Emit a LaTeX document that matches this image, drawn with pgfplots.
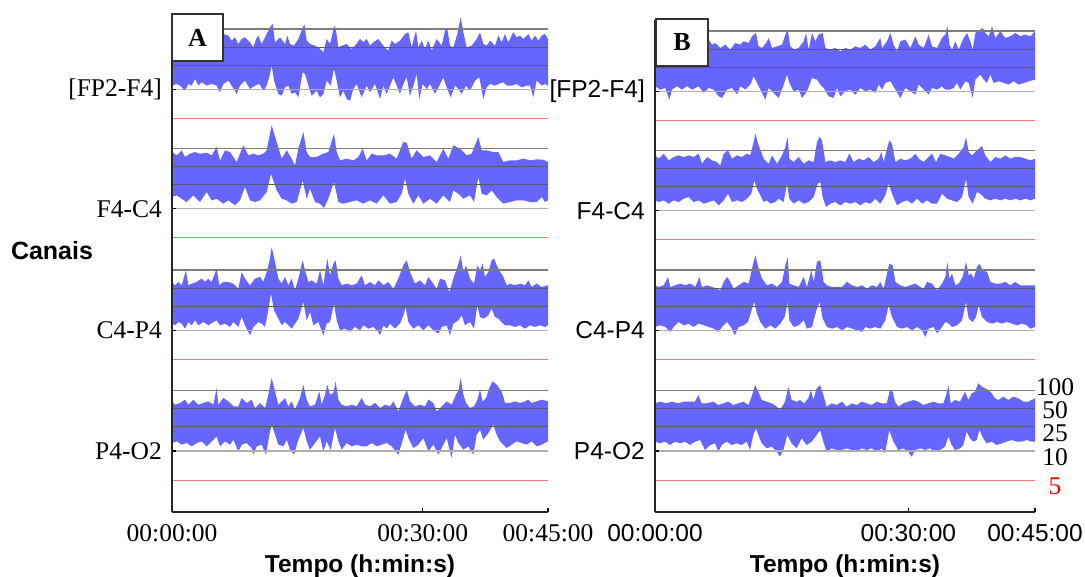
\documentclass[border=0pt]{standalone}
\usepackage{fontspec}
\setmainfont{Liberation Sans}
\newfontfamily\tnr{Liberation Serif}
\usepackage{pgfplots}
\pgfplotsset{compat=1.18}
\usepgfplotslibrary{fillbetween}
\definecolor{bandc}{RGB}{102,102,255}
\definecolor{lc100}{RGB}{125,125,125}
\definecolor{lcmid}{RGB}{90,90,110}
\definecolor{lc10}{RGB}{175,175,175}
\definecolor{lc5}{RGB}{255,120,120}
\pgfplotsset{
 chanA/.style={scale only axis, width=376pt, height=120pt, xmin=0, xmax=1128, ymin=-120, ymax=240, axis lines=none, ticks=none, clip=false, anchor=south west},
 chanB/.style={chanA, width=380pt, xmax=1140},
}
\newcommand\levels[1]{%
 \addplot[lc100, line width=1.1pt] coordinates {(0,181) (#1,181)};
 \addplot[lcmid, line width=1pt] coordinates {(0,126) (#1,126)};
 \addplot[lcmid, line width=1pt] coordinates {(0,72) (#1,72)};
 \addplot[lc10, line width=1.2pt] coordinates {(0,0) (#1,0)};
 \addplot[lc5, line width=0.9pt] coordinates {(0,-87) (#1,-87)};
}
\newcommand\band[2]{%
 \addplot[draw=none, name path=uu] coordinates {#1};
 \addplot[draw=none, name path=ll] coordinates {#2};
 \addplot[fill=bandc, draw=none] fill between[of=uu and ll];
}
\newcommand\fs{\fontsize{25.5}{30}\selectfont}
\newcommand\fss{\fontsize{24.5}{29}\selectfont}
\begin{document}
\begin{tikzpicture}[x=1pt,y=1pt]
% ===== Panel A =====
\begin{axis}[chanA, at={(172pt,446.7pt)}]
\band{(0,156) (24,141) (49,151) (74,136) (99,156) (124,146) (144,151) (154,166) (169,161) (179,146) (189,156) (199,136) (209,151) (219,156) (234,141) (244,126) (252,151) (259,161) (269,136) (284,166) (294,186) (302,196) (309,141) (324,156) (339,136) (346,161) (354,136) (366,131) (379,151) (389,176) (397,196) (404,146) (414,136) (429,131) (439,126) (454,111) (464,151) (474,136) (487,191) (492,176) (499,126) (509,131) (524,136) (539,121) (549,131) (564,151) (574,141) (584,151) (594,131) (604,141) (619,151) (634,131) (649,116) (659,146) (669,136) (684,146) (699,166) (709,171) (719,126) (732,176) (739,126) (749,146) (759,121) (769,146) (779,116) (794,151) (809,131) (819,176) (826,181) (834,131) (844,126) (856,166) (866,216) (874,171) (884,126) (899,131) (914,151) (924,171) (934,136) (944,131) (954,146) (969,131) (979,161) (989,141) (999,166) (1009,141) (1024,171) (1034,156) (1044,161) (1054,151) (1069,166) (1079,146) (1089,161) (1099,146) (1109,161) (1119,166) (1128,151)}
{(0,11) (14,16) (24,11) (39,-4) (49,16) (59,11) (69,31) (79,11) (89,21) (104,11) (119,16) (134,11) (144,-9) (154,16) (169,26) (179,11) (194,-14) (204,11) (219,26) (234,1) (249,11) (262,16) (274,-4) (284,11) (294,46) (299,71) (306,26) (319,-14) (329,-19) (339,6) (349,11) (359,-14) (369,-9) (379,-24) (392,51) (399,46) (409,11) (419,-19) (434,-4) (444,-24) (454,-14) (464,26) (476,11) (486,61) (494,26) (504,-24) (514,-4) (524,-29) (534,-34) (544,1) (554,16) (569,-24) (584,11) (594,-9) (609,16) (624,-29) (634,11) (644,-14) (654,11) (664,36) (674,11) (684,-14) (694,16) (704,36) (714,-19) (724,11) (734,46) (742,-29) (752,16) (764,1) (774,16) (789,-14) (802,11) (814,36) (824,6) (836,-24) (849,11) (859,1) (869,-14) (882,11) (894,-4) (909,26) (922,36) (934,-29) (944,6) (954,16) (969,11) (979,16) (994,21) (1004,11) (1019,11) (1034,16) (1049,6) (1064,11) (1074,11) (1084,-24) (1094,26) (1109,11) (1119,16) (1128,11)}
\levels{1128}
\end{axis}
\begin{axis}[chanA, at={(172pt,327.3pt)}]
\band{(0,170) (14,160) (29,175) (39,155) (54,165) (69,170) (84,165) (104,168) (119,160) (134,185) (144,145) (159,175) (174,170) (194,140) (214,190) (229,160) (244,165) (259,160) (274,165) (284,175) (299,250) (314,200) (329,150) (344,175) (359,150) (369,130) (379,180) (394,230) (404,170) (414,155) (434,155) (454,165) (469,170) (486,225) (494,170) (504,145) (524,150) (544,145) (559,155) (572,180) (584,145) (599,165) (614,160) (634,160) (654,165) (674,150) (694,200) (704,198) (719,150) (734,175) (754,155) (774,160) (794,140) (814,180) (829,150) (844,190) (864,180) (884,160) (899,165) (919,215) (929,175) (944,175) (964,170) (979,170) (994,140) (1014,145) (1034,145) (1054,150) (1074,145) (1094,148) (1114,147) (1128,140)}
{(0,35) (14,40) (29,30) (44,20) (64,40) (84,20) (104,50) (119,25) (134,30) (154,15) (169,25) (189,10) (204,25) (219,65) (234,25) (249,20) (264,25) (284,50) (297,105) (314,55) (329,30) (344,25) (359,15) (374,20) (392,85) (404,30) (414,60) (429,20) (444,15) (456,2) (469,30) (486,80) (499,20) (514,15) (534,20) (554,25) (574,15) (594,25) (614,15) (634,40) (654,15) (674,20) (689,45) (699,90) (709,45) (724,15) (739,40) (754,15) (774,30) (794,15) (814,40) (834,20) (844,55) (859,45) (874,30) (894,40) (906,20) (919,95) (929,45) (944,40) (959,55) (974,35) (994,15) (1014,20) (1034,25) (1054,25) (1074,20) (1094,20) (1109,35) (1119,20) (1128,25)}
\levels{1128}
\end{axis}
\begin{axis}[chanA, at={(172pt,205.7pt)}]
\band{(0,145) (9,135) (19,145) (29,135) (42,180) (49,135) (59,140) (74,145) (89,155) (99,145) (109,155) (119,145) (134,185) (142,135) (154,145) (169,145) (184,140) (199,125) (209,175) (219,155) (234,135) (249,155) (264,160) (274,145) (284,175) (294,215) (299,250) (309,205) (319,155) (329,140) (339,160) (349,135) (359,155) (369,120) (379,155) (392,210) (399,180) (409,145) (419,150) (434,140) (444,180) (454,135) (466,215) (474,165) (484,200) (491,210) (499,155) (509,135) (524,140) (539,135) (554,140) (569,165) (579,135) (594,145) (609,135) (619,150) (634,135) (649,145) (664,125) (679,155) (694,195) (704,210) (714,175) (729,140) (744,150) (759,135) (769,160) (784,140) (794,125) (804,155) (819,150) (832,115) (844,155) (856,190) (866,225) (874,175) (882,195) (894,155) (906,140) (916,195) (924,180) (932,200) (939,160) (949,175) (959,210) (966,215) (974,195) (984,175) (992,165) (1004,135) (1014,140) (1029,135) (1044,140) (1059,135) (1069,150) (1079,130) (1094,140) (1109,130) (1128,135)}
{(0,20) (9,15) (19,25) (29,20) (39,5) (49,25) (59,15) (69,30) (79,15) (94,25) (109,15) (124,25) (134,30) (144,15) (159,20) (174,10) (184,25) (199,10) (209,40) (219,15) (234,-15) (244,10) (259,25) (269,20) (279,10) (287,50) (297,110) (306,60) (319,35) (329,15) (339,25) (349,15) (359,5) (369,20) (379,35) (394,85) (404,30) (414,55) (424,15) (439,25) (454,-15) (464,20) (474,25) (486,80) (494,30) (504,0) (519,5) (534,-5) (549,10) (564,0) (574,15) (589,5) (604,10) (619,-5) (624,-15) (634,15) (644,5) (654,20) (669,5) (684,20) (694,45) (701,70) (709,25) (724,5) (739,15) (754,0) (769,15) (784,0) (799,-10) (809,10) (824,15) (834,-15) (844,20) (859,30) (869,45) (879,15) (894,25) (906,5) (916,75) (924,40) (934,35) (949,45) (959,65) (969,40) (979,35) (989,25) (999,15) (1014,15) (1029,10) (1044,15) (1059,5) (1074,15) (1089,10) (1104,15) (1119,10) (1128,15)}
\levels{1128}
\end{axis}
\begin{axis}[chanA, at={(172pt,85pt)}]
\band{(0,149) (9,139) (24,144) (39,154) (49,139) (64,154) (79,139) (94,144) (109,149) (124,139) (134,189) (139,139) (154,159) (169,149) (184,134) (199,134) (209,159) (224,144) (239,154) (249,129) (264,144) (279,129) (289,169) (299,219) (309,179) (319,139) (329,149) (339,159) (349,134) (359,149) (369,124) (384,159) (394,199) (404,154) (414,134) (429,139) (442,179) (449,139) (459,169) (466,199) (474,169) (484,174) (491,209) (499,154) (509,139) (524,134) (539,139) (554,134) (569,159) (579,139) (594,134) (609,144) (624,129) (639,139) (654,134) (664,149) (679,119) (694,159) (704,184) (714,149) (729,134) (744,139) (759,134) (769,154) (784,144) (794,119) (809,134) (824,149) (839,139) (852,169) (860,184) (866,219) (874,169) (882,144) (894,129) (906,134) (916,154) (924,184) (932,149) (942,159) (952,189) (962,209) (974,199) (989,179) (999,144) (1014,144) (1029,149) (1044,144) (1059,149) (1069,154) (1079,144) (1094,149) (1109,154) (1128,149)}
{(0,24) (14,29) (29,19) (44,24) (59,14) (74,24) (89,29) (104,14) (119,29) (134,44) (144,14) (159,29) (174,19) (184,34) (199,-1) (209,19) (224,24) (239,9) (244,-11) (254,14) (269,19) (282,-11) (292,49) (299,79) (309,49) (319,19) (334,14) (344,34) (354,4) (366,-11) (379,34) (394,69) (404,29) (414,4) (429,24) (444,44) (454,-1) (464,29) (476,4) (489,69) (499,29) (509,4) (524,24) (539,14) (554,19) (569,14) (584,14) (599,24) (614,14) (629,19) (644,24) (659,14) (679,-11) (694,39) (701,64) (709,39) (724,9) (739,19) (754,39) (769,-1) (784,19) (799,-11) (814,19) (824,39) (839,-21) (849,49) (859,24) (874,4) (889,14) (904,-11) (914,49) (924,64) (934,34) (949,54) (964,79) (974,49) (984,29) (1004,9) (1019,19) (1034,29) (1049,24) (1064,19) (1079,29) (1094,14) (1109,19) (1128,29)}
\levels{1128}
\end{axis}
\begin{axis}[at={(172pt,64pt)}, anchor=south west, scale only axis, width=376pt, height=498pt,
 xmin=0, xmax=1128, ymin=0, ymax=498, axis x line=bottom, axis y line=left,
 axis line style={-, black!85, line width=1.3pt},
 xtick={0,752,1128}, xticklabels={00:00:00,00:30:00,00:45:00},
 ytick={61,181.7,303.3,422.7}, yticklabels={P4-O2,C4-P4,F4-C4,{[FP2-F4]}},
 tick align=inside, major tick length=4pt, tick style={black, line width=1.2pt},
 xticklabel style={font=\tnr\fs, anchor=base, yshift=-29pt},
 yticklabel style={font=\tnr\fs, anchor=east, inner sep=0pt, xshift=-10pt}]
\end{axis}
% ===== Panel B =====
\begin{axis}[chanB, at={(655pt,444.7pt)}]
\band{(0,145) (31,135) (61,140) (91,130) (121,140) (151,150) (161,155) (171,140) (181,145) (196,130) (211,140) (226,125) (241,145) (256,140) (266,150) (281,145) (291,165) (303,175) (311,135) (321,130) (333,145) (341,160) (351,130) (366,135) (381,140) (391,170) (398,185) (406,135) (416,125) (431,130) (446,150) (453,175) (461,125) (471,175) (481,150) (491,170) (503,175) (511,130) (526,125) (541,130) (556,120) (571,130) (586,125) (601,135) (616,130) (631,140) (646,125) (661,135) (676,160) (681,130) (696,150) (706,175) (716,140) (726,120) (736,150) (751,155) (766,130) (781,165) (791,140) (806,130) (821,170) (831,135) (846,130) (861,160) (871,170) (877,198) (883,140) (891,125) (901,150) (911,125) (926,160) (936,175) (946,150) (953,125) (961,175) (976,185) (983,190) (991,175) (1001,165) (1011,195) (1021,160) (1036,180) (1051,160) (1066,165) (1081,175) (1096,165) (1111,170) (1126,165) (1140,180)}
{(0,15) (16,5) (31,10) (43,-25) (51,5) (66,15) (81,5) (96,15) (111,5) (131,15) (146,-5) (161,10) (176,5) (191,-15) (201,-20) (216,5) (231,10) (246,-10) (256,15) (271,5) (286,20) (296,45) (306,25) (316,5) (331,-25) (341,10) (356,-5) (371,-20) (386,20) (396,50) (403,25) (416,0) (431,5) (441,-20) (456,0) (471,40) (486,35) (496,20) (506,10) (521,-15) (536,-20) (546,10) (556,-15) (571,0) (586,5) (601,-10) (616,10) (631,0) (646,5) (661,-5) (671,20) (681,5) (691,25) (706,30) (721,5) (736,-20) (751,10) (766,0) (781,-10) (791,20) (806,5) (821,-10) (831,10) (846,5) (861,15) (871,5) (884,5) (896,10) (906,25) (916,5) (931,30) (941,25) (953,-20) (961,35) (976,50) (986,35) (996,25) (1006,50) (1016,25) (1031,30) (1046,25) (1061,20) (1076,30) (1091,20) (1106,25) (1121,30) (1140,35)}
\levels{1140}
\end{axis}
\begin{axis}[chanB, at={(655pt,325.3pt)}]
\band{(0,166) (11,156) (26,171) (41,151) (56,161) (71,166) (86,161) (101,166) (116,161) (131,171) (141,141) (156,161) (171,151) (186,146) (196,136) (206,171) (219,181) (231,156) (246,166) (261,161) (276,171) (286,166) (296,206) (301,231) (311,196) (326,156) (341,141) (351,166) (366,141) (381,166) (391,191) (398,221) (403,156) (416,146) (431,161) (446,141) (461,151) (476,146) (486,206) (494,221) (501,211) (511,146) (526,151) (541,146) (556,151) (571,146) (583,171) (596,146) (611,156) (626,151) (641,161) (656,146) (671,156) (679,176) (686,146) (696,186) (703,211) (711,201) (721,146) (736,156) (751,151) (766,156) (781,171) (791,156) (806,146) (821,161) (831,171) (843,146) (856,171) (871,166) (886,161) (896,156) (911,171) (926,191) (933,221) (941,176) (951,166) (966,181) (981,194) (991,166) (1006,146) (1021,161) (1036,156) (1051,166) (1066,156) (1081,161) (1096,161) (1111,156) (1126,151) (1140,156)}
{(0,31) (11,26) (26,31) (41,21) (56,31) (71,26) (86,36) (101,41) (116,26) (131,31) (146,21) (161,26) (176,31) (191,16) (206,31) (219,51) (231,26) (246,31) (261,26) (276,36) (289,51) (298,91) (306,66) (316,46) (326,26) (336,31) (346,21) (361,26) (371,36) (386,26) (396,81) (403,36) (416,21) (431,31) (446,21) (461,26) (476,41) (488,81) (496,86) (503,41) (513,11) (526,21) (541,26) (556,16) (571,26) (586,21) (601,26) (616,16) (631,26) (646,21) (661,36) (676,21) (691,46) (701,81) (711,51) (726,16) (741,26) (756,31) (771,21) (786,36) (801,21) (816,31) (831,21) (846,21) (861,51) (876,36) (891,31) (906,26) (921,41) (933,96) (941,41) (953,21) (966,56) (976,51) (991,36) (1006,31) (1021,36) (1036,31) (1051,36) (1066,31) (1081,36) (1096,31) (1111,36) (1126,31) (1140,36)}
\levels{1140}
\end{axis}
\begin{axis}[chanB, at={(655pt,205.7pt)}]
\band{(0,135) (11,130) (26,135) (39,160) (46,130) (61,135) (76,140) (91,135) (106,140) (121,130) (133,160) (141,130) (156,135) (171,130) (186,125) (196,120) (206,145) (216,160) (226,145) (236,125) (251,135) (266,145) (281,140) (291,185) (301,225) (311,185) (321,155) (336,135) (351,140) (366,130) (381,145) (391,195) (398,220) (403,140) (416,135) (431,130) (446,160) (456,130) (469,180) (476,145) (486,205) (496,210) (506,145) (516,135) (531,130) (546,130) (561,130) (576,145) (591,135) (606,130) (621,135) (636,125) (651,135) (666,130) (676,145) (686,125) (696,170) (703,200) (713,195) (721,145) (736,135) (751,130) (766,135) (781,140) (796,130) (806,125) (816,145) (831,140) (846,120) (861,140) (871,160) (877,205) (883,155) (891,170) (901,135) (911,140) (923,160) (933,205) (941,165) (949,170) (956,155) (966,190) (973,200) (983,180) (996,175) (1006,145) (1021,140) (1036,140) (1051,145) (1066,135) (1081,145) (1096,135) (1111,135) (1126,135) (1140,135)}
{(0,10) (16,15) (31,10) (46,-5) (56,10) (71,25) (86,15) (101,20) (116,10) (131,20) (146,15) (161,10) (176,5) (191,-5) (201,10) (216,25) (231,5) (239,-15) (251,10) (266,15) (279,25) (291,65) (298,85) (306,50) (316,25) (331,5) (346,15) (361,5) (376,20) (389,40) (398,85) (403,30) (416,10) (431,15) (446,30) (456,5) (471,10) (484,60) (494,85) (503,35) (516,10) (531,5) (546,10) (561,0) (576,10) (591,5) (606,0) (621,-5) (631,10) (646,5) (661,10) (676,5) (691,30) (701,75) (711,40) (726,10) (741,5) (756,10) (771,0) (786,10) (801,0) (811,-20) (821,5) (836,10) (846,-10) (861,10) (871,25) (881,20) (891,10) (906,15) (921,30) (933,85) (941,35) (953,25) (963,40) (971,75) (981,40) (996,25) (1011,20) (1026,25) (1041,20) (1056,25) (1071,20) (1086,15) (1101,20) (1116,15) (1126,5) (1140,10)}
\levels{1140}
\end{axis}
\begin{axis}[chanB, at={(655pt,85pt)}]
\band{(0,143) (15,148) (35,143) (50,148) (70,143) (85,148) (105,148) (120,148) (130,168) (140,143) (155,143) (175,148) (190,138) (205,143) (220,148) (235,138) (250,143) (265,148) (280,138) (290,163) (300,198) (310,178) (320,153) (335,148) (350,143) (365,133) (375,123) (390,148) (400,193) (410,153) (425,148) (435,153) (447,143) (460,158) (468,183) (475,153) (485,188) (495,198) (505,168) (515,133) (530,143) (545,138) (560,148) (575,133) (590,143) (605,138) (620,148) (635,143) (650,138) (665,148) (680,143) (695,143) (705,183) (713,178) (720,148) (730,133) (745,143) (760,148) (775,153) (790,148) (805,138) (820,143) (835,148) (850,143) (865,143) (875,173) (880,198) (887,143) (900,153) (915,148) (930,178) (940,153) (950,173) (960,178) (970,203) (980,193) (990,188) (1000,183) (1010,173) (1020,158) (1030,153) (1045,163) (1060,153) (1075,163) (1090,158) (1105,148) (1120,148) (1130,153) (1140,158)}
{(0,28) (15,23) (30,28) (45,18) (60,28) (75,23) (90,28) (105,18) (120,28) (135,33) (150,3) (165,18) (180,23) (190,-2) (200,18) (215,28) (230,18) (245,23) (260,18) (275,28) (285,3) (295,48) (303,68) (310,48) (320,23) (335,8) (350,13) (365,-2) (375,-17) (385,3) (397,48) (410,23) (425,8) (440,38) (455,18) (470,28) (485,48) (495,63) (505,28) (515,-2) (530,8) (545,3) (560,3) (575,8) (590,3) (605,-2) (620,8) (635,3) (650,8) (665,-2) (680,8) (690,-7) (703,63) (715,28) (730,3) (745,8) (760,-2) (770,-17) (780,3) (795,8) (810,3) (825,8) (840,-2) (855,3) (870,13) (880,43) (890,18) (900,3) (915,8) (925,18) (935,58) (945,38) (955,28) (965,33) (973,63) (985,38) (995,23) (1010,28) (1025,18) (1040,23) (1055,28) (1070,33) (1085,28) (1100,28) (1115,33) (1130,28) (1140,28)}
\levels{1140}
\end{axis}
\begin{axis}[at={(655pt,64pt)}, anchor=south west, scale only axis, width=380pt, height=492pt,
 xmin=0, xmax=1140, ymin=0, ymax=492, axis x line=bottom, axis y line=left,
 axis line style={-, black!85, line width=1.3pt},
 xtick={0,760,1140}, xticklabels={00:00:00,00:30:00,00:45:00},
 ytick={61,181.7,301.3,420.7}, yticklabels={P4-O2,C4-P4,F4-C4,{[FP2-F4]}},
 tick align=inside, major tick length=4pt, tick style={black, line width=1.2pt},
 xticklabel style={font=\fss, anchor=base, yshift=-29pt},
 yticklabel style={font=\fss, anchor=east, inner sep=0pt, xshift=-10pt}]
\end{axis}
% ===== Boxes and labels =====
\node[draw=black!80, line width=1.2pt, fill=white, minimum width=51pt, minimum height=47pt, inner sep=0pt, font=\tnr\bfseries\fontsize{26}{30}\selectfont] at (197.5,538.5) {A};
\node[draw=black!80, line width=1.2pt, fill=white, minimum width=52pt, minimum height=47pt, inner sep=0pt, font=\tnr\bfseries\fontsize{26}{30}\selectfont] at (682,533.5) {B};
\node[anchor=base, font=\bfseries\fss] at (360,3.5) {Tempo (h:min:s)};
\node[anchor=base, font=\bfseries\fss] at (845,3.5) {Tempo (h:min:s)};
\node[anchor=base, font=\bfseries\fontsize{25}{30}\selectfont] at (52,316) {Canais};
\node[anchor=base, font=\tnr\fs] at (1055,180) {100};
\node[anchor=base, font=\tnr\fs] at (1055,157) {50};
\node[anchor=base, font=\tnr\fs] at (1055,134) {25};
\node[anchor=base, font=\tnr\fs] at (1055,110) {10};
\node[anchor=base, font=\tnr\fs, text=red] at (1055,81) {5};
\pgfresetboundingbox
\useasboundingbox (0,0) rectangle (1085,576);
\end{tikzpicture}
\end{document}
